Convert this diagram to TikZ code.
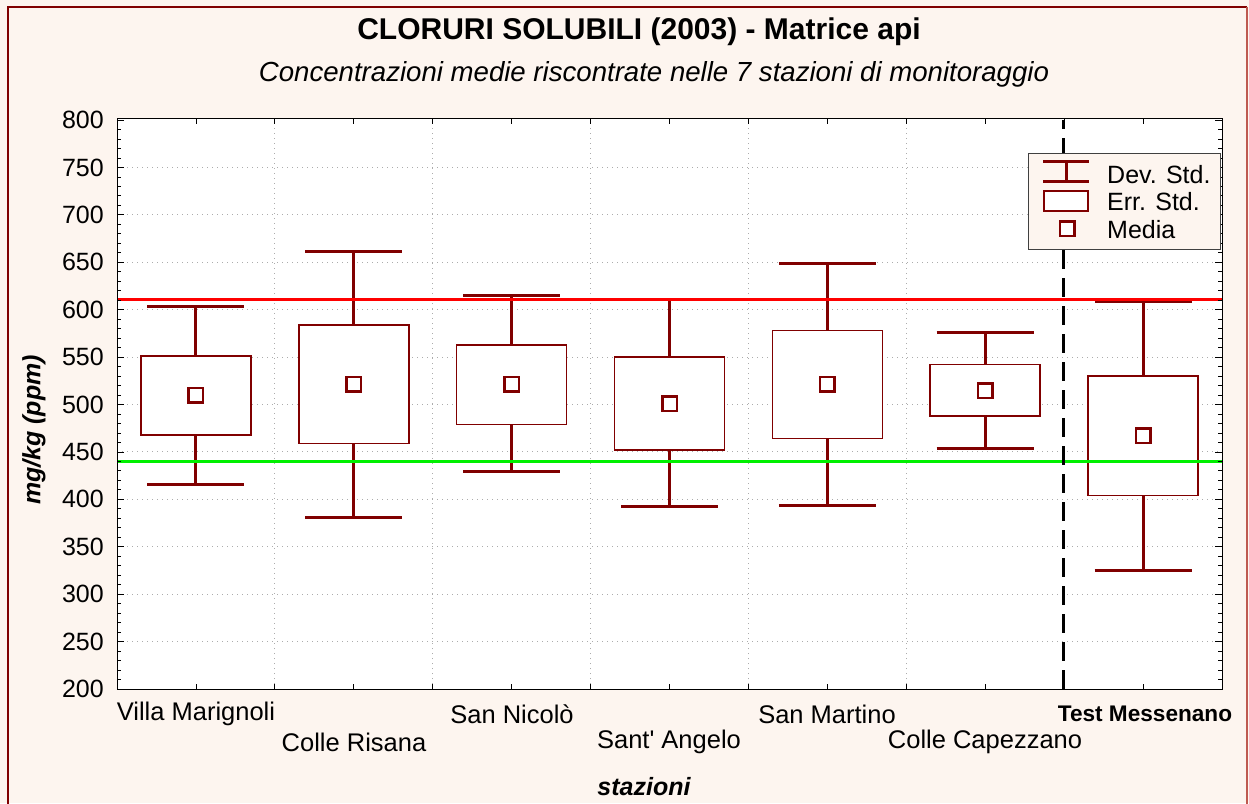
\documentclass[tikz,border=0pt]{standalone}
\usepackage{fontspec}
\setmainfont{Liberation Sans}
\usetikzlibrary{positioning}

\definecolor{cream}{RGB}{253,245,239}
\definecolor{darkred}{RGB}{128,0,0}
\definecolor{framered}{RGB}{190,90,80}
\definecolor{limegreen}{RGB}{0,240,0}

\tikzset{
  sdbar/.style={draw=darkred, line width=3pt},
  sebox/.style={draw=darkred, line width=1.6pt, fill=white},
  meanbox/.style={draw=darkred, line width=2.5pt, fill=white, minimum size=14.5pt, inner sep=0pt},
  gridline/.style={draw=gray!65, line width=0.9pt, dash pattern=on 1pt off 4pt},
  ticklab/.style={font=\fontsize{25}{30}\selectfont, anchor=east, inner sep=0pt},
  catlab/.style={font=\fontsize{25.5}{30}\selectfont, inner sep=0pt},
  legtext/.style={font=\fontsize{25}{30}\selectfont, anchor=west, inner sep=0pt},
}

\begin{document}
\begin{tikzpicture}[x=1pt,y=1pt]
\useasboundingbox (0,0) rectangle (1249,803);
\fill[cream] (0,0) rectangle (1249,803);
\draw[darkred, line width=1.6pt] (8,-2) -- (8,796) -- (1247,796);
\draw[framered, line width=1.6pt] (1247,796) -- (1247,-2);

% titles
\node[font=\bfseries\fontsize{30}{34}\selectfont] (title) at (639,771) {CLORURI SOLUBILI (2003) - Matrice api};
\node[font=\itshape\fontsize{27.6}{32}\selectfont] (subtitle) at (654,729) {Concentrazioni medie riscontrate nelle 7 stazioni di monitoraggio};

% plot area
\fill[white] (117,114) rectangle (1222,684);
\foreach \k in {1,...,5}
  \draw[gridline] ({117+157.86*\k},114) -- ({117+157.86*\k},684);

\begin{scope}[y=0.9483pt, yshift=-75.66pt]
\foreach \v in {250,300,...,750}
  \draw[gridline] (117,\v) -- (1222,\v);

% whiskers, boxes, means
\foreach \i/\lo/\qa/\m/\qb/\hi in {1/416/468/509/551/603, 2/381/459/521/584/661,
    3/429/479/521/563/615, 4/392/452/501/550/611, 5/393/464/521/578/649,
    6/454/488/514/542/576, 7/325/404/467/530/609}{
  \pgfmathsetmacro{\xc}{38.07+157.86*\i}
  \draw[sdbar] (\xc,\lo) -- (\xc,\hi);
  \draw[sdbar] ({\xc-48.5},\lo) -- ({\xc+48.5},\lo);
  \draw[sdbar] ({\xc-48.5},\hi) -- ({\xc+48.5},\hi);
  \draw[sebox] ({\xc-55},\qa) rectangle ({\xc+55},\qb);
}
\draw[red, line width=3pt] (117,610.5) -- (1222,610.5);
\draw[limegreen, line width=3pt] (117,440.4) -- (1222,440.4);
\foreach \i/\m in {1/509.5, 2/521.5, 3/521.5, 4/501, 5/521.5, 6/514.5, 7/467}
  \node[meanbox] (mean\i) at ({38.07+157.86*\i},\m) {};

% test separator
\draw[black, line width=2.6pt, dash pattern=on 19pt off 9pt] (1063.6,200) -- (1063.6,800);

% axis ticks
\foreach \v in {200,210,...,800}{
  \draw[black, line width=0.8pt] (117,\v) -- ++(4,0);
  \draw[black, line width=0.8pt] (1222,\v) -- ++(-4,0);
}
\foreach \v in {200,250,...,800}{
  \draw[black, line width=0.8pt] (117,\v) -- ++(7,0);
  \draw[black, line width=0.8pt] (1222,\v) -- ++(-7,0);
  \node[ticklab] (y\v) at (104,\v) {\v};
}
\end{scope}

\foreach \k in {1,...,13}{
  \draw[black, line width=0.8pt] ({117+78.93*\k},114) -- ++(0,5);
  \draw[black, line width=0.8pt] ({117+78.93*\k},684) -- ++(0,-5);
}
\draw[black, line width=1pt] (117,114) rectangle (1222,684);

% station names
\node[catlab] (cat1) at (196,89) {Villa Marignoli};
\node[catlab] (cat2) at (354,61) {Colle Risana};
\node[catlab] (cat3) at (512,89) {San Nicolò};
\node[catlab] (cat4) at (669,61) {Sant{\XeTeXglyph\XeTeXcharglyph"0027} Angelo};
\node[catlab] (cat5) at (827,89) {San Martino};
\node[catlab] (cat6) at (985,61) {Colle Capezzano};
\node[catlab, font=\bfseries\fontsize{22.6}{27}\selectfont] (cat7) at (1145,89) {Test Messenano};

\node[font=\bfseries\itshape\fontsize{25}{30}\selectfont] (xlab) at (644,16) {stazioni};
\node[font=\bfseries\itshape\fontsize{25}{30}\selectfont, rotate=90] (ylab) at (34,373) {mg/kg (ppm)};

% legend
\draw[fill=cream, draw=black!75, line width=1pt] (1028,553) rectangle (1220,649) node[pos=0, inner sep=0pt] (leg) {};
\draw[sdbar] (1043,641) -- (1089,641);
\draw[sdbar] (1043,621) -- (1089,621);
\draw[sdbar] (1066,641) -- (1066,621);
\draw[sebox] (1044,612) rectangle (1088,592);
\node[meanbox] (legmean) at (1067,574) {};
\node[legtext] (legsd) at (1107,628) {Dev. Std.};
\node[legtext] (legse) at (1107,601) {Err. Std.};
\node[legtext] (legm) at (1107,573) {Media};
\end{tikzpicture}
\end{document}
